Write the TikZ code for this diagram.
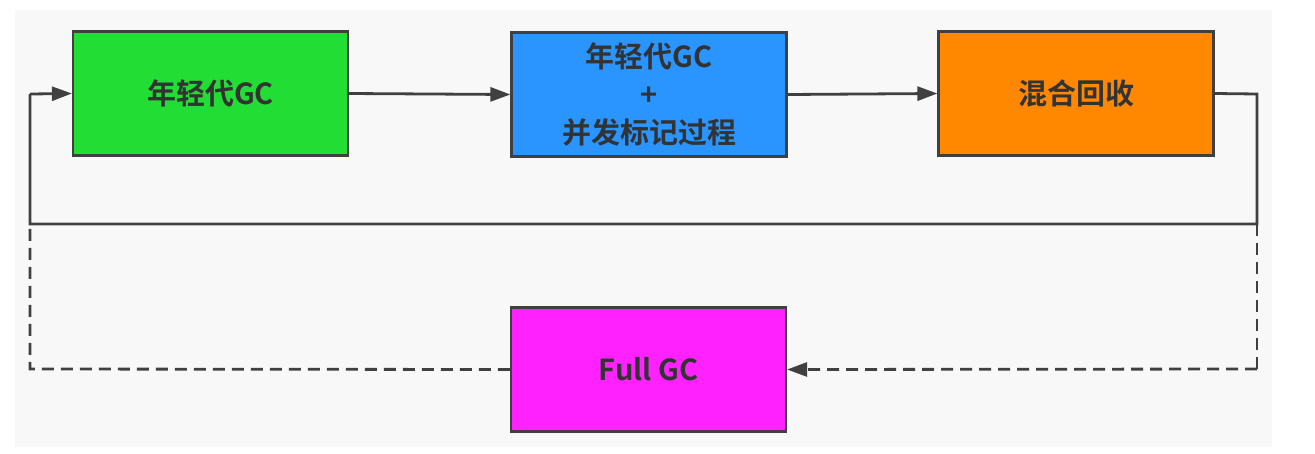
\documentclass[tikz,border=0pt]{standalone}
\usepackage{fontspec}
\setmainfont{Noto Sans CJK SC}[BoldFont={* Bold}]
\usetikzlibrary{arrows.meta}
\definecolor{bgc}{HTML}{F8F8F8}
\definecolor{linec}{HTML}{404040}
\definecolor{textc}{HTML}{333333}
\definecolor{gfill}{HTML}{22DD33}
\definecolor{bfill}{HTML}{2A95FF}
\definecolor{ofill}{HTML}{FF8800}
\definecolor{mfill}{HTML}{FF22FF}
\tikzset{
  boxnode/.style={draw=linec, line width=2.2pt, minimum width=275pt, minimum height=124pt,
    inner sep=0pt, align=center, text=textc,
    font=\fontsize{29}{38}\selectfont\bfseries},
  tip/.style={-{Triangle[length=20pt,width=14pt]}},
  conn/.style={draw=linec, line width=2.8pt, tip},
  plain/.style={draw=linec, line width=2.8pt},
  dashconn/.style={draw=linec, line width=2.8pt, dash pattern=on 12pt off 7pt}
}
\begin{document}
\begin{tikzpicture}[x=1pt,y=-1pt]
\useasboundingbox (0,0) rectangle (1315,453);
\fill[white] (0,0) rectangle (1315,453);
\fill[bgc] (15,10) rectangle (1272,447);
\node[boxnode, fill=gfill] (yg) at (210.5,93.5) {年轻代GC};
\node[boxnode, fill=bfill] (mix) at (649,94.5) {年轻代GC\\+\\并发标记过程};
\node[boxnode, fill=ofill] (hh) at (1076,93.5) {混合回收};
\node[boxnode, fill=mfill] (full) at (648.5,369.5) {Full GC};
\coordinate (r1) at (1257,94);
\coordinate (r2) at (1257,224);
\coordinate (l2) at (30,224);
\coordinate (l1) at (30,94);
\coordinate (r3) at (1257,369);
\coordinate (l3) at (30,369);
\draw[conn] (yg.east) -- (mix.west);
\draw[conn] (mix.east) -- (hh.west);
\draw[plain, line join=miter] (hh.east) -- (r1) -- (r2) -- (l2) -- (l1);
\draw[conn] (l1) -- (yg.west);
\draw[dashconn] (r2) -- (r3);
\draw[dashconn, tip] (r3) -- (full.east);
\draw[dashconn] (full.west) -- (l3) -- (l2);
\end{tikzpicture}
\end{document}
